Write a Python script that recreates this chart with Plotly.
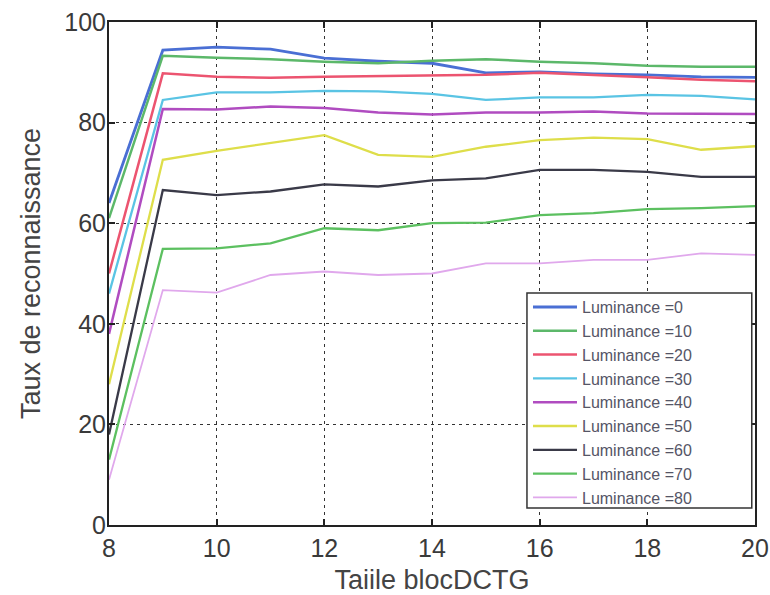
import plotly.graph_objects as go

x_vals = [8, 9, 10, 11, 12, 13, 14, 15, 16, 17, 18, 19, 20]

lum_0 = [64, 94.4, 95.0, 94.6, 92.8, 92.2, 91.8, 89.9, 90.1, 89.7, 89.5, 89.1, 89.0]
lum_10 = [61, 93.3, 92.9, 92.6, 92.1, 91.8, 92.3, 92.6, 92.1, 91.8, 91.3, 91.1, 91.1]
lum_20 = [50, 89.8, 89.1, 88.9, 89.1, 89.2, 89.4, 89.5, 89.9, 89.5, 89.0, 88.5, 88.2]
lum_30 = [46, 84.5, 86.0, 86.0, 86.3, 86.2, 85.7, 84.5, 85.0, 85.0, 85.5, 85.3, 84.6]
lum_40 = [38, 82.7, 82.6, 83.2, 82.9, 82.0, 81.6, 82.0, 82.0, 82.2, 81.8, 81.7, 81.7]
lum_50 = [28, 72.6, 74.4, 75.9, 77.5, 73.6, 73.2, 75.2, 76.5, 77.0, 76.7, 74.6, 75.3]
lum_60 = [18, 66.6, 65.6, 66.3, 67.7, 67.3, 68.5, 68.9, 70.6, 70.6, 70.2, 69.2, 69.2]
lum_70 = [13, 54.9, 55.0, 56.0, 59.0, 58.6, 60.0, 60.1, 61.6, 62.0, 62.8, 63.0, 63.4]
lum_80 = [9, 46.7, 46.2, 49.7, 50.4, 49.7, 50.0, 52.0, 52.0, 52.7, 52.7, 54.0, 53.7]

series_names = ["Luminance =0", "Luminance =10", "Luminance =20", "Luminance =30",
                "Luminance =40", "Luminance =50", "Luminance =60", "Luminance =70",
                "Luminance =80"]
series_values = [lum_0, lum_10, lum_20, lum_30, lum_40, lum_50, lum_60, lum_70, lum_80]
colors = ["#4a6fd4", "#5cb86a", "#ec5470", "#5ac4e4", "#b04cc0",
          "#dede4a", "#3a3a48", "#5cc060", "#e0a8ec"]
widths = [2.8, 2.5, 2.5, 2.3, 2.5, 2.3, 2.3, 2.3, 1.8]

x_ticks = [8, 10, 12, 14, 16, 18, 20]
y_ticks = [0, 20, 40, 60, 80, 100]

FONT = "Liberation Sans, Arial"

fig = go.Figure()
for name, vals, c, w in zip(series_names, series_values, colors, widths):
    fig.add_trace(go.Scatter(x=x_vals, y=vals, mode="lines", name=name,
                             line=dict(color=c, width=w)))

axis_common = dict(
    showline=True, linecolor="#222222", linewidth=2, mirror="ticks",
    ticks="inside", ticklen=6, tickcolor="#222222", tickwidth=1.5,
    showgrid=True, gridcolor="#333333", gridwidth=1, griddash="3px,4px",
    zeroline=False, automargin=False,
    tickfont=dict(family=FONT, size=25, color="#3a3a3a"),
)

fig.update_xaxes(range=[8, 20], tickvals=x_ticks,
                 title=dict(text="Taiile blocDCTG", standoff=17,
                            font=dict(family=FONT, size=27, color="#444444")),
                 **axis_common)
fig.update_yaxes(range=[0, 100], tickvals=y_ticks, ticklabelstandoff=-4,
                 title=dict(text="Taux de reconnaissance", standoff=16,
                            font=dict(family=FONT, size=27, color="#444444")),
                 **axis_common)

# legend frame (white box with dark border) behind the legend entries
fig.add_shape(type="rect", xref="paper", yref="paper",
              x0=0.647, x1=0.995, y0=0.034, y1=0.461,
              fillcolor="white", line=dict(color="#333333", width=1.5),
              layer="above")

fig.update_layout(
    width=770, height=595,
    margin=dict(l=109, r=15, t=22, b=70),
    paper_bgcolor="white", plot_bgcolor="white",
    showlegend=True,
    legend=dict(x=0.6486, y=0.467, xanchor="left", yanchor="top",
                bgcolor="rgba(0,0,0,0)", borderwidth=0,
                font=dict(family=FONT, size=16, color="#555566"),
                tracegroupgap=0, itemwidth=44),
)

fig.write_html("out.html", config={"displayModeBar": False},
               post_script="document.body.style.margin='0';")
